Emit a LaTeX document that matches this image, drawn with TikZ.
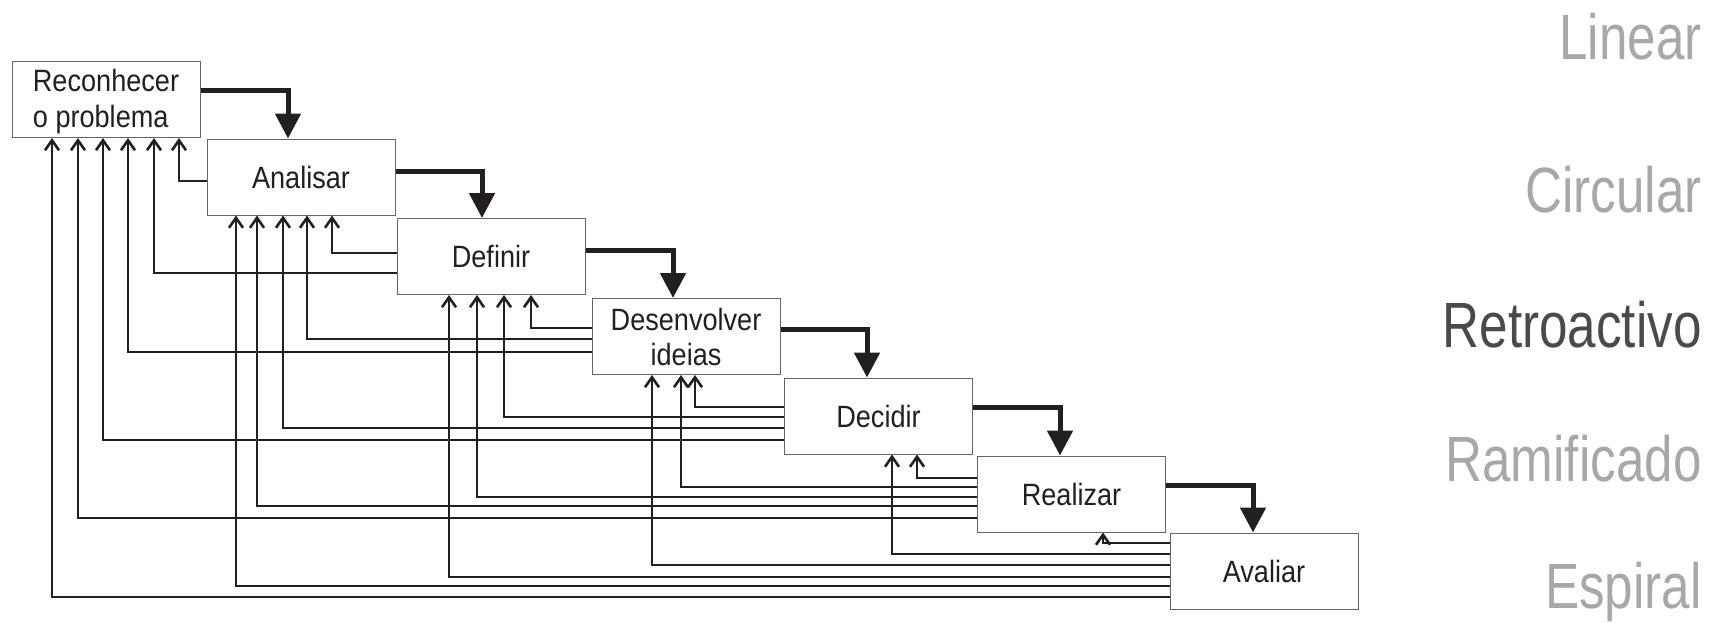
\documentclass[tikz,border=0pt]{standalone}
\usepackage{fontspec}
\newfontfamily\stagefont[FakeStretch=0.88]{Liberation Sans}
\newfontfamily\modelfont[FakeStretch=0.8]{Liberation Sans}
\usetikzlibrary{arrows.meta}
\definecolor{ink}{HTML}{231F20}
\definecolor{dim}{HTML}{A8A8A8}
\definecolor{dark}{HTML}{4D4946}

\begin{document}
\begin{tikzpicture}[
	x=0.5pt, y=-0.5pt,
	stage/.style={ draw=black!60, line width=0.5pt, fill=white, minimum width=94pt, minimum height=38pt, inner sep=0pt, align=center, text=ink, font=\stagefont\fontsize{15.4}{17.5}\selectfont },
	flow/.style={ ink, line width=2.5pt, -{Triangle[length=12.5pt,width=12.5pt]} },
	feedback/.style={ ink, line width=1.3pt, -{Straight Barb[length=5pt,width=7pt]} },
	model/.style={ anchor=base east, inner sep=0pt, text=dim, font=\modelfont\fontsize{32}{38}\selectfont },
	modelon/.style={ model, text=dark }
]
\useasboundingbox (0,0) rectangle (1723,622);

\node at (106,99.5) (rec) [stage,align=left,font=\stagefont\fontsize{15.4}{18}\selectfont] {\rule{0pt}{13pt}Reconhecer\\o problema};
\node at (301,177) (ana) [stage] {Analisar};
\node at (491,256.5) (def) [stage] {Definir};
\node at (686,336.5) (des) [stage] {Desenvolver\\ideias};
\node at (878.5,416) (dec) [stage] {Decidir};
\node at (1071.5,494) (rea) [stage] {Realizar};
\node at (1264,571) (ava) [stage] {Avaliar};

% main sequence
\foreach \a/\b/\ya/\xb in {rec/ana/90/288, ana/def/171/482, def/des/250/673, des/dec/329/867, dec/rea/407/1060, rea/ava/485/1253}
	\draw[flow] (\a.east |- 0,\ya) -| (\b.north -| \xb,0);

% going back
\draw[feedback] (ana.west |- 0,181) -| (rec.south -| 179,0);
\foreach \ly/\lx/\t in {253/332/ana, 273/154/rec}
	\draw[feedback] (def.west |- 0,\ly) -| (\t.south -| \lx,0);
\foreach \ly/\lx/\t in {328/531/def, 339/307/ana, 352/128/rec}
	\draw[feedback] (des.west |- 0,\ly) -| (\t.south -| \lx,0);
\foreach \ly/\lx/\t in {407/695/des, 417/504/def, 428/283/ana, 440/103/rec}
	\draw[feedback] (dec.west |- 0,\ly) -| (\t.south -| \lx,0);
\foreach \ly/\lx/\t in {478/917/dec, 487/681/des, 497/477/def, 506/257/ana, 518/78/rec}
	\draw[feedback] (rea.west |- 0,\ly) -| (\t.south -| \lx,0);
\foreach \ly/\lx/\t in {543/1103/rea, 554/892/dec, 565/652/des, 577/449/def, 586/236/ana, 597/52/rec}
	\draw[feedback] (ava.west |- 0,\ly) -| (\t.south -| \lx,0);

\node at (1702,59) (lin) [model] {Linear};
\node at (1702,212) (cir) [model] {Circular};
\node at (1702,347) (ret) [modelon] {Retroactivo};
\node at (1702,481) (ram) [model] {Ramificado};
\node at (1702,608) (esp) [model] {Espiral};

\end{tikzpicture}
\end{document}
